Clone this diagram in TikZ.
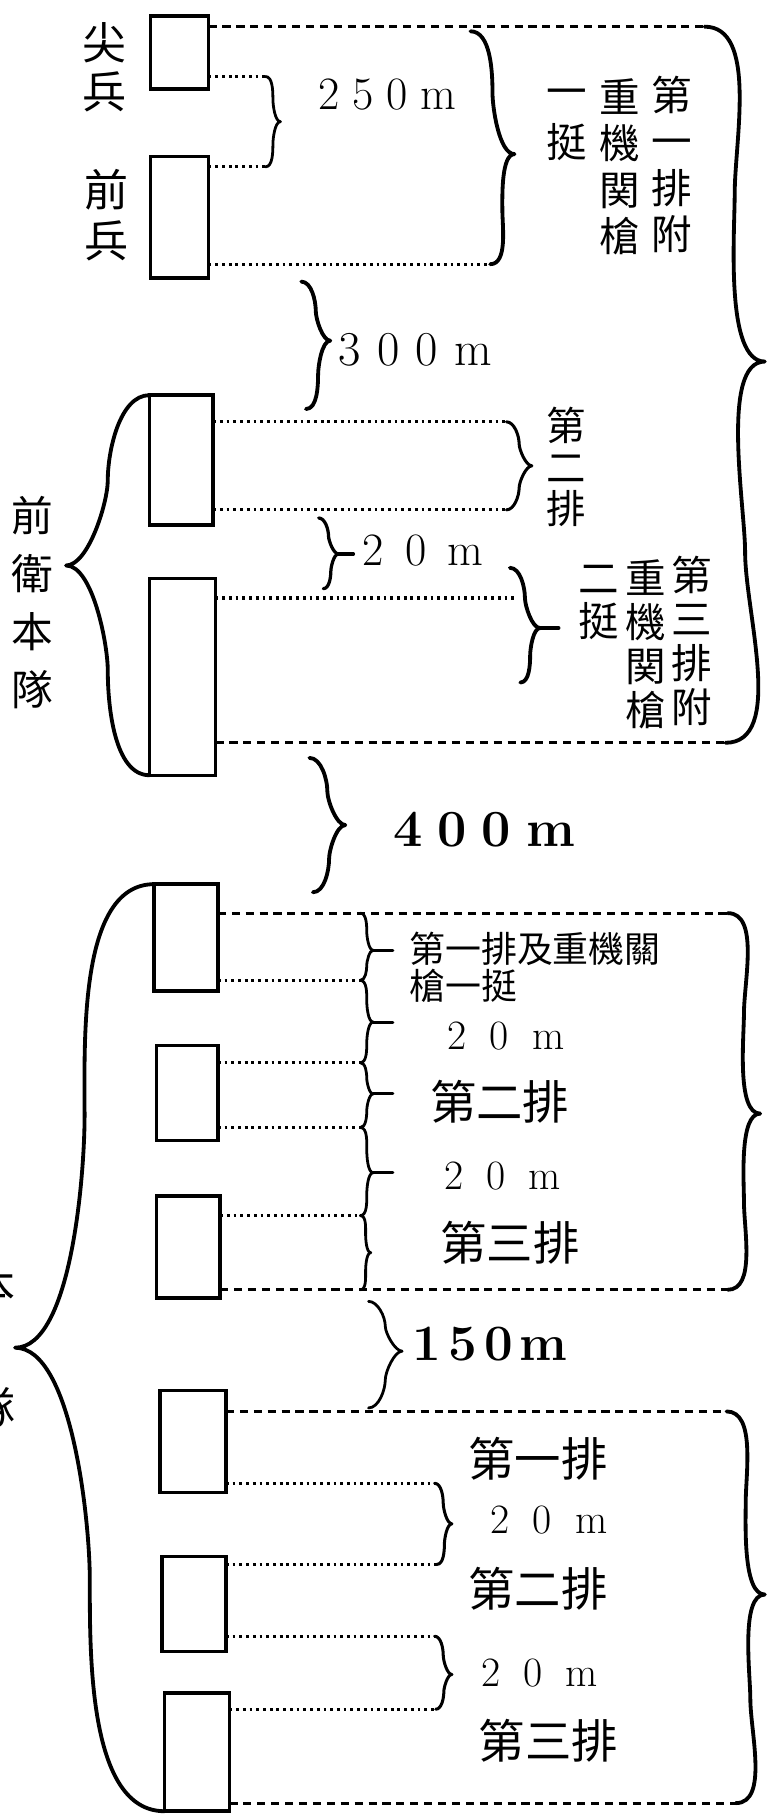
\documentclass[tikz,border=0pt]{standalone}
\usepackage{fontspec}
\newfontfamily\cjk{Noto Sans CJK TC}
\usetikzlibrary{positioning,calc}
% curly brace through top, tip and bottom coordinates
\newcommand{\rcurl}[4][]{\draw[curl,#1] (#2) to[out=0,in=90] ($(#2)!0.5!(#3)$) to[out=-90,in=180,looseness=0.6] (#3)
  to[out=180,in=90,looseness=0.6] ($(#3)!0.5!(#4)$) to[out=-90,in=0] (#4);}
\newcommand{\lcurl}[4][]{\draw[curl,#1] (#2) to[out=180,in=90] ($(#2)!0.5!(#3)$) to[out=-90,in=0,looseness=0.6] (#3)
  to[out=0,in=90,looseness=0.6] ($(#3)!0.5!(#4)$) to[out=-90,in=180] (#4);}
% widely set distances
\newlength{\gapwidth}
\newcommand{\gapped}[2]{\setlength{\gapwidth}{#1}\gappedstep#2\relax}
\def\gappedstep#1#2{#1\ifx#2\relax\else\kern\gapwidth\expandafter\gappedstep\expandafter#2\fi}

\begin{document}
\begin{tikzpicture}[
    x=1pt, y=1pt,
    unit/.style={rectangle, draw, line width=3pt, inner sep=0pt, outer sep=0pt, minimum width=#1},
    unit/.default=50pt,
    dashline/.style={line width=2.6pt, dash pattern=on 7pt off 5pt},
    dotline/.style={line width=2.8pt, dash pattern=on 2.4pt off 3.4pt},
    curl/.style={line width=3.3pt, line cap=round, line join=round, looseness=0.8},
    vcol/.style args={#1/#2}{align=center, inner sep=0pt, font=\cjk\fontsize{#1}{#2}\selectfont},
    row/.style={inner sep=0pt, anchor=west, font=\cjk\fontsize{#1}{#1}\selectfont},
    dist/.style={inner sep=0pt, anchor=west, font=\fontsize{#1}{#1}\selectfont},
    bdist/.style={inner sep=0pt, anchor=west, font=\fontsize{#1}{#1}\selectfont\bfseries}
]
\useasboundingbox (0,0) rectangle (664,-1568);

% Advance party: scout and point
\node[unit, minimum height=63pt] (scout) at (155,-45.5) {};
\node[unit, minimum height=105pt, below=58pt of scout] (point) {};
\node[vcol=38/42] (scoutLbl) at (90,-58) {尖\\兵};
\node[vcol=38/44] (pointLbl) at (92,-186) {前\\兵};

% Advance guard main body
\node[unit=55pt, minimum height=112pt, below=101pt of point, xshift=1.5pt] (plat2) {};
\node[unit=57pt, minimum height=170pt, below=46pt of plat2, xshift=1pt] (plat3) {};
\node[vcol=36/50] (guardLbl) at (28,-520) {前\\衛\\本\\隊};

% Main body, first company
\node[unit=55pt, minimum height=92pt, below=94pt of plat3, xshift=3pt] (coA1) {};
\node[unit=53pt, minimum height=82pt, below=47pt of coA1, xshift=1pt] (coA2) {};
\node[unit=55pt, minimum height=88pt, below=48pt of coA2, xshift=1pt] (coA3) {};

% Main body, second company
\node[unit=57pt, minimum height=88pt, below=80pt of coA3, xshift=4pt] (coB1) {};
\node[unit=55pt, minimum height=82pt, below=55pt of coB1, xshift=1pt] (coB2) {};
\node[unit=56pt, minimum height=102pt, below=36pt of coB2, xshift=2.5pt] (coB3) {};
\node[vcol=38/105] (mainLbl) at (-6,-1162) {本\\隊};

% Brace ends
\coordinate (vgTop) at (608,-23);   \coordinate (vgTip) at (660,-312);   \coordinate (vgBot) at (626,-641);
\coordinate (gapTop) at (229,-66);  \coordinate (gapTip) at (242,-105);  \coordinate (gapBot) at (229,-144);
\coordinate (ptTop) at (406,-27);   \coordinate (ptTip) at (444,-133);   \coordinate (ptBot) at (423,-228);
\coordinate (g300Top) at (260,-243); \coordinate (g300Tip) at (285,-294); \coordinate (g300Bot) at (264,-353);
\coordinate (p2Top) at (437,-364);  \coordinate (p2Tip) at (459,-402);   \coordinate (p2Bot) at (437,-440);
\coordinate (g20Top) at (275,-447); \coordinate (g20Tip) at (292,-478);  \coordinate (g20Bot) at (279,-508);
\coordinate (p3Top) at (440,-490);  \coordinate (p3Tip) at (466,-542);   \coordinate (p3Bot) at (449,-589);
\coordinate (p3Line) at (446,-516);
\coordinate (guardTip) at (57,-488);
\coordinate (g400Top) at (267,-654); \coordinate (g400Tip) at (298,-712); \coordinate (g400Bot) at (270,-770);
\coordinate (caTop) at (628,-788);  \coordinate (caTip) at (656,-961);   \coordinate (caBot) at (628,-1113);
\coordinate (j0) at (311,-788); \coordinate (j1) at (311,-846); \coordinate (j2) at (311,-917);
\coordinate (j3) at (311,-973); \coordinate (j4) at (311,-1049); \coordinate (j5) at (311,-1113);
\coordinate (k1) at (322,-820); \coordinate (k2) at (322,-882); \coordinate (k3) at (322,-944);
\coordinate (k4) at (322,-1012); \coordinate (k5) at (320,-1081);
\coordinate (g150Top) at (318,-1123); \coordinate (g150Tip) at (347,-1166); \coordinate (g150Bot) at (318,-1215);
\coordinate (cbTop) at (627,-1218); \coordinate (cbTip) at (660,-1376); \coordinate (cbBot) at (635,-1556);
\coordinate (s1Top) at (375,-1280); \coordinate (s1Tip) at (390,-1315); \coordinate (s1Bot) at (377,-1350);
\coordinate (s2Top) at (375,-1412); \coordinate (s2Tip) at (390,-1445); \coordinate (s2Bot) at (376,-1475);
\coordinate (mainTip) at (13,-1163);

% Lines out of the boxes
\draw[dashline] (scout.east |- vgTop) -- (vgTop);
\draw[dotline] (scout.east |- gapTop) -- (gapTop);
\draw[dotline] (point.east |- gapBot) -- (gapBot);
\draw[dotline] (point.east |- ptBot) -- (ptBot);
\draw[dotline] (plat2.east |- p2Top) -- (p2Top);
\draw[dotline] (plat2.east |- p2Bot) -- (p2Bot);
\draw[dotline] (plat3.east |- p3Line) -- (p3Line);
\draw[dashline] (plat3.east |- vgBot) -- (vgBot);
\draw[dashline] (coA1.east |- caTop) -- (caTop);
\draw[dotline] (coA1.east |- j1) -- (j1);
\draw[dotline] (coA2.east |- j2) -- (j2);
\draw[dotline] (coA2.east |- j3) -- (j3);
\draw[dotline] (coA3.east |- j4) -- (j4);
\draw[dashline] (coA3.east |- caBot) -- (caBot);
\draw[dashline] (coB1.east |- cbTop) -- (cbTop);
\draw[dotline] (coB1.east |- s1Top) -- (s1Top);
\draw[dotline] (coB2.east |- s1Bot) -- (s1Bot);
\draw[dotline] (coB2.east |- s2Top) -- (s2Top);
\draw[dotline] (coB3.east |- s2Bot) -- (s2Bot);
\draw[dashline] (coB3.east |- cbBot) -- (cbBot);

% Braces
\rcurl{vgTop}{vgTip}{vgBot}
\rcurl[line width=2.4pt]{gapTop}{gapTip}{gapBot}
\rcurl{ptTop}{ptTip}{ptBot}
\rcurl{g300Top}{g300Tip}{g300Bot}
\rcurl[line width=2.6pt]{p2Top}{p2Tip}{p2Bot}
\rcurl[line width=2.8pt]{g20Top}{g20Tip}{g20Bot}
\draw[curl, line width=2.8pt] (g20Tip) -- ++(13,0);
\rcurl{p3Top}{p3Tip}{p3Bot}
\draw[curl] (p3Tip) -- ++(16,0);
\lcurl{plat2.north west}{guardTip}{plat3.south west}
\rcurl{g400Top}{g400Tip}{g400Bot}
\rcurl{caTop}{caTip}{caBot}
\rcurl[line width=2.4pt]{j0}{k1}{j1}
\rcurl[line width=2.4pt]{j1}{k2}{j2}
\rcurl[line width=2.4pt]{j2}{k3}{j3}
\rcurl[line width=2.4pt]{j3}{k4}{j4}
\rcurl[line width=2.4pt]{j4}{k5}{j5}
\draw[curl, line width=2.6pt] (k1) -- ++(17,0);
\draw[curl, line width=2.6pt] (k2) -- ++(17,0);
\draw[curl, line width=2.6pt] (k3) -- ++(17,0);
\draw[curl, line width=2.6pt] (k4) -- ++(17,0);
\rcurl[line width=2.4pt]{g150Top}{g150Tip}{g150Bot}
\rcurl{cbTop}{cbTip}{cbBot}
\rcurl[line width=2.6pt]{s1Top}{s1Tip}{s1Bot}
\rcurl[line width=2.6pt]{s2Top}{s2Tip}{s2Bot}
\lcurl{coA1.north west}{mainTip}{coB3.south west}

% Labels, advance guard
\node[dist=40] (d250) at (275,-82) {\gapped{11pt}{250m}};
\node[vcol=35/40] (lead1) at (580,-142) {第\\一\\排\\附};
\node[vcol=35/40] (lead2) at (535,-144) {重\\機\\関\\槍};
\node[vcol=35/44] (lead3) at (489,-108) {一\\挺};
\node[dist=42] (d300) at (292,-302) {\gapped{14pt}{300m}};
\node[vcol=34/36] (sec2) at (489,-403) {第\\二\\排};
\node[dist=40] (d20a) at (313,-475) {\gapped{18pt}{20m}};
\node[vcol=35/38] (third1) at (597,-553) {第\\三\\排\\附};
\node[vcol=35/38] (third2) at (557,-556) {重\\機\\関\\槍};
\node[vcol=35/37] (third3) at (517,-520) {二\\挺};
\node[bdist=45] (d400) at (339,-716) {\gapped{13pt}{400m}};

% Labels, main body
\node[row=31, align=left, font=\cjk\fontsize{31}{32}\selectfont] (aOne) at (353,-835) {第一排及重機關\\槍一挺};
\node[dist=36] (aGap1) at (386,-894) {\gapped{20pt}{20m}};
\node[row=40] (aTwo) at (371,-951) {第二排};
\node[dist=36] (aGap2) at (383,-1015) {\gapped{20pt}{20m}};
\node[row=40] (aThree) at (380,-1072) {第三排};
\node[bdist=44] (d150) at (356,-1160) {\gapped{6pt}{150m}};
\node[row=40] (bOne) at (404,-1259) {第一排};
\node[dist=36] (bGap1) at (423,-1312) {\gapped{20pt}{20m}};
\node[row=40] (bTwo) at (404,-1371) {第二排};
\node[dist=36] (bGap2) at (415,-1444) {\gapped{20pt}{20m}};
\node[row=40] (bThree) at (413,-1502) {第三排};

\end{tikzpicture}
\end{document}
